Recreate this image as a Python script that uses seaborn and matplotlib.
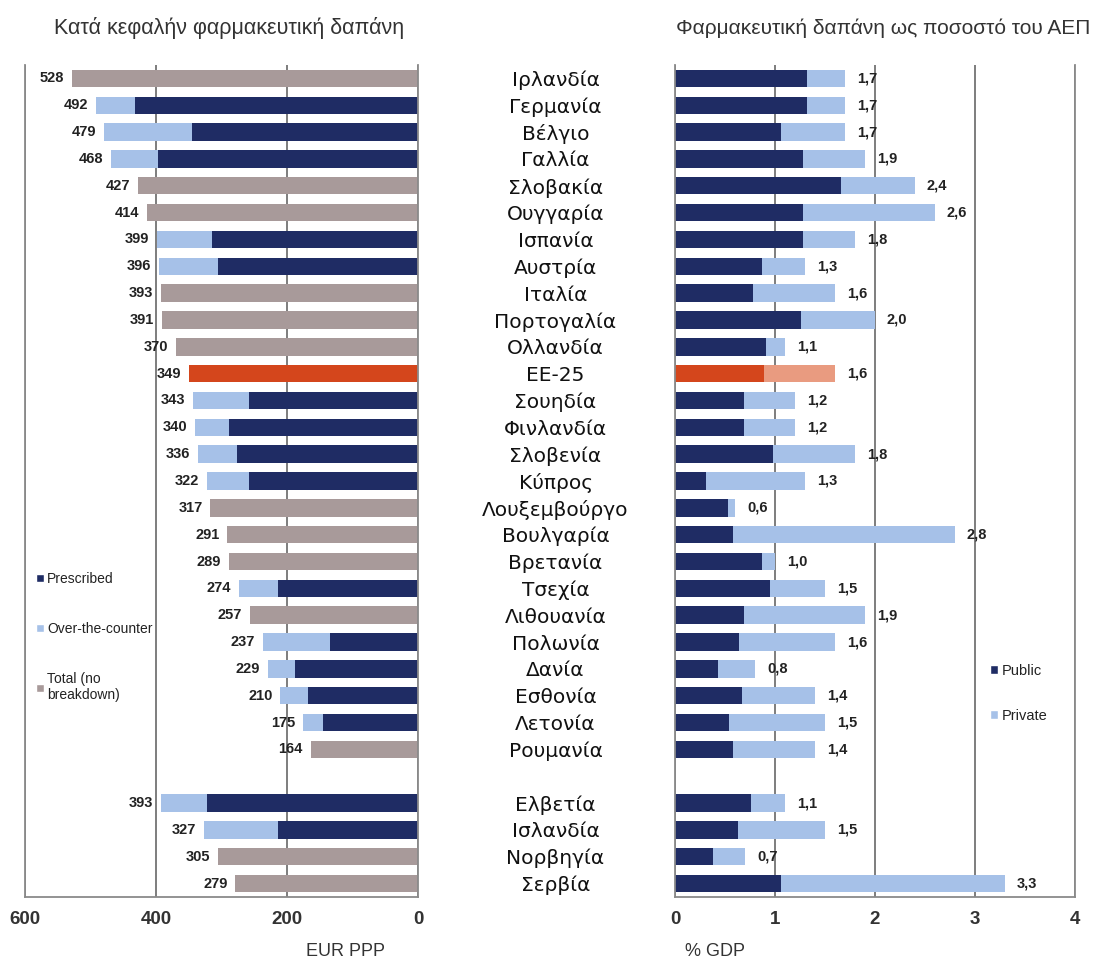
import numpy as np
import pandas as pd
import matplotlib
matplotlib.use("Agg")
import matplotlib.pyplot as plt
import seaborn as sns
from matplotlib.patches import Patch

# ---- data -------------------------------------------------------------
countries = ["Ιρλανδία", "Γερμανία", "Βέλγιο", "Γαλλία", "Σλοβακία", "Ουγγαρία",
             "Ισπανία", "Αυστρία", "Ιταλία", "Πορτογαλία", "Ολλανδία", "ΕΕ-25",
             "Σουηδία", "Φινλανδία", "Σλοβενία", "Κύπρος", "Λουξεμβούργο",
             "Βουλγαρία", "Βρετανία", "Τσεχία", "Λιθουανία", "Πολωνία", "Δανία",
             "Εσθονία", "Λετονία", "Ρουμανία", "",
             "Ελβετία", "Ισλανδία", "Νορβηγία", "Σερβία"]

nan = np.nan
# per-capita pharmaceutical expenditure, EUR PPP
per_capita_total = [528, 492, 479, 468, 427, 414, 399, 396, 393, 391, 370, 349,
                    343, 340, 336, 322, 317, 291, 289, 274, 257, 237, 229, 210,
                    175, 164, nan, 393, 327, 305, 279]
per_capita_prescribed = [nan, 432, 345, 397, nan, nan, 315, 305, nan, nan, nan, nan,
                         258, 288, 277, 258, nan, nan, nan, 214, nan, 134, 188, 168,
                         145, nan, nan, 322, 214, nan, nan]

# pharmaceutical expenditure as % of GDP
gdp_total = [1.7, 1.7, 1.7, 1.9, 2.4, 2.6, 1.8, 1.3, 1.6, 2.0, 1.1, 1.6,
             1.2, 1.2, 1.8, 1.3, 0.6, 2.8, 1.0, 1.5, 1.9, 1.6, 0.8, 1.4,
             1.5, 1.4, nan, 1.1, 1.5, 0.7, 3.3]
gdp_public = [1.32, 1.32, 1.06, 1.28, 1.66, 1.28, 1.28, 0.87, 0.78, 1.26, 0.91, 0.89,
              0.69, 0.69, 0.98, 0.31, 0.53, 0.58, 0.87, 0.95, 0.69, 0.64, 0.43, 0.67,
              0.54, 0.58, nan, 0.76, 0.63, 0.38, 1.06]

eu_label = "ΕΕ-25"

# ---- colours ------------------------------------------------------------
NAVY = "#1f2c64"
LIGHT = "#a6c1e8"
GREY = "#a89a9a"
RED = "#d4461c"
SALMON = "#e99b80"
TEXT = "#222222"
LINE = "#5a5a5a"

df = pd.DataFrame({
    "country": countries,
    "total": per_capita_total,
    "prescribed": per_capita_prescribed,
    "gdp_total": gdp_total,
    "gdp_public": gdp_public,
})
df["kind"] = np.where(df["country"] == eu_label, "eu",
                      np.where(df["prescribed"].notna(), "split", "total"))

sns.set_theme(style="white")
plt.rcParams["font.family"] = ["Liberation Sans", "DejaVu Sans"]

W, H = 1101, 960
fig = plt.figure(figsize=(W / 100, H / 100), dpi=100)
fig.patch.set_facecolor("white")


def fig_box(x0, y0, x1, y1):
    return [x0 / W, 1 - y1 / H, (x1 - x0) / W, (y1 - y0) / H]


ax_l = fig.add_axes(fig_box(25, 65, 418, 897))
ax_r = fig.add_axes(fig_box(675, 65, 1075, 897))

BAR_W = 0.65

# ---- left panel: per capita ------------------------------------------------
sns.barplot(data=df, y="country", x="total", order=countries, hue="kind",
            palette={"split": LIGHT, "total": GREY, "eu": RED}, dodge=False,
            width=BAR_W, saturation=1, linewidth=0, legend=False, orient="h",
            ax=ax_l)
sns.barplot(data=df, y="country", x="prescribed", order=countries, color=NAVY,
            width=BAR_W, saturation=1, linewidth=0, orient="h", ax=ax_l)

ax_l.set_xlim(600, 0)
ax_l.set_xticks([600, 400, 200, 0])
ax_l.set_yticks(range(len(countries)))
ax_l.set_yticklabels([])
ax_l.set_xlabel("")
ax_l.set_ylabel("")

for i, v in enumerate(per_capita_total):
    if not np.isnan(v):
        ax_l.text(v + 12, i, f"{int(v)}", ha="right", va="center",
                  fontsize=10.5, fontweight="bold", color=TEXT)

# ---- right panel: % GDP -----------------------------------------------------
df["gdp_kind"] = np.where(df["country"] == eu_label, "eu", "normal")
sns.barplot(data=df, y="country", x="gdp_total", order=countries, hue="gdp_kind",
            palette={"normal": LIGHT, "eu": SALMON}, dodge=False,
            width=BAR_W, saturation=1, linewidth=0, legend=False, orient="h",
            ax=ax_r)
sns.barplot(data=df, y="country", x="gdp_public", order=countries, hue="gdp_kind",
            palette={"normal": NAVY, "eu": RED}, dodge=False,
            width=BAR_W, saturation=1, linewidth=0, legend=False, orient="h",
            ax=ax_r)

ax_r.set_xlim(0, 4)
ax_r.set_xticks([0, 1, 2, 3, 4])
ax_r.set_xlabel("")
ax_r.set_ylabel("")

for i, v in enumerate(gdp_total):
    if not np.isnan(v):
        ax_r.text(v + 0.12, i, f"{v:.1f}".replace(".", ","), ha="left",
                  va="center", fontsize=10.5, fontweight="bold", color=TEXT)

# country names sit between the two panels
ax_r.tick_params(axis="y", length=0, pad=86, labelsize=14.5, labelcolor="#111111")
for t in ax_r.get_yticklabels():
    t.set_horizontalalignment("center")
    t.set_fontfamily(["DejaVu Sans"])

# ---- shared axis styling ---------------------------------------------------
for ax in (ax_l, ax_r):
    ax.set_facecolor("white")
    ax.set_axisbelow(True)
    ax.xaxis.grid(True, color=LINE, linewidth=1.1)
    ax.yaxis.grid(False)
    ax.spines["top"].set_visible(False)
    for s in ("left", "right", "bottom"):
        ax.spines[s].set_visible(True)
        ax.spines[s].set_color("#8a8a8a")
        ax.spines[s].set_linewidth(1.3)
    ax.tick_params(axis="x", length=4, width=1, color=LINE, pad=6,
                   labelsize=13.5, labelcolor="#333333")
    for t in ax.get_xticklabels():
        t.set_fontweight("bold")

# ---- titles, axis captions and legends -------------------------------------
fig.text(229 / W, 1 - 28 / H, "Κατά κεφαλήν φαρμακευτική δαπάνη",
         ha="center", va="center", fontsize=15.5, color="#333333")
fig.text(883 / W, 1 - 28 / H, "Φαρμακευτική δαπάνη ως ποσοστό του ΑΕΠ",
         ha="center", va="center", fontsize=15, color="#333333")
fig.text(345 / W, 1 - 951 / H, "EUR PPP", ha="center", va="center",
         fontsize=13, color="#333333")
fig.text(715 / W, 1 - 952 / H, "% GDP", ha="center", va="center",
         fontsize=13, color="#333333")

left_handles = [Patch(facecolor=NAVY), Patch(facecolor=LIGHT), Patch(facecolor=GREY)]
fig.legend(left_handles, ["Prescribed", "Over-the-counter", "Total (no\nbreakdown)"],
           loc="upper left", bbox_to_anchor=(36 / W, 1 - 572 / H), frameon=False,
           fontsize=10, handlelength=0.55, handleheight=0.55, handletextpad=0.25,
           labelspacing=2.6, borderaxespad=0, borderpad=0, labelcolor=TEXT)

right_handles = [Patch(facecolor=NAVY), Patch(facecolor=LIGHT)]
fig.legend(right_handles, ["Public", "Private"],
           loc="upper left", bbox_to_anchor=(990 / W, 1 - 664 / H), frameon=False,
           fontsize=10.5, handlelength=0.55, handleheight=0.55, handletextpad=0.25,
           labelspacing=2.1, borderaxespad=0, borderpad=0, labelcolor=TEXT)

fig.savefig("out.png", dpi=100, facecolor="white")
